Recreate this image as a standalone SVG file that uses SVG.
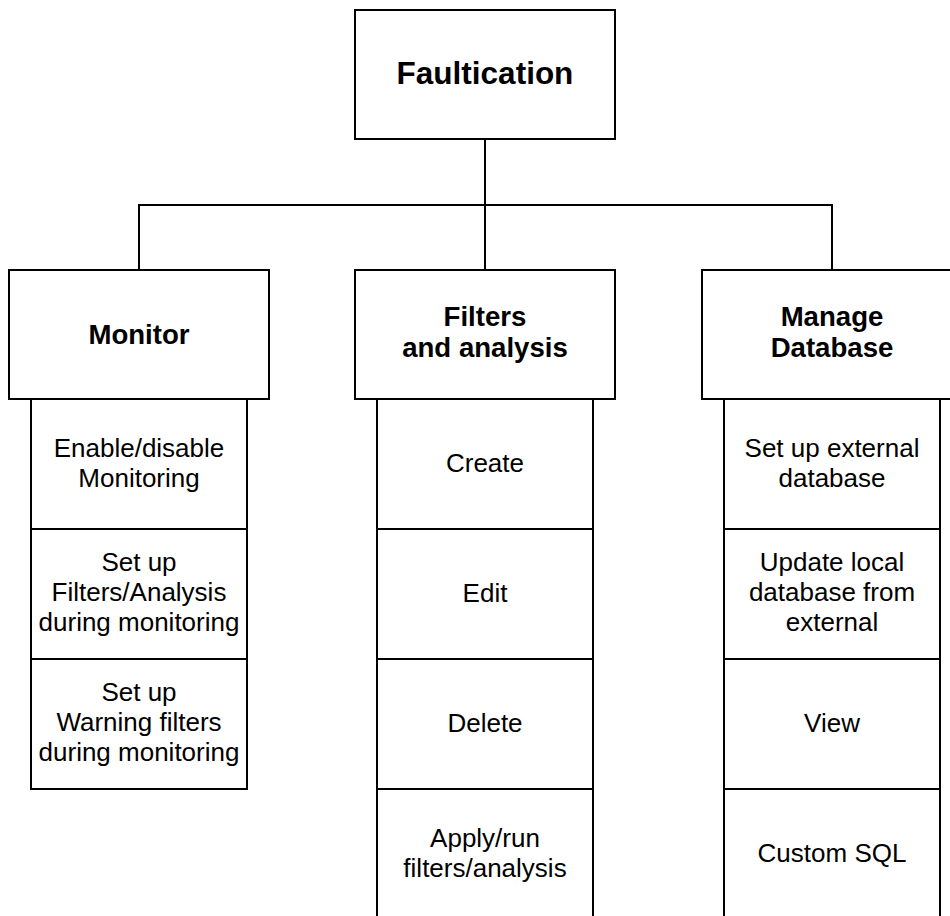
<svg xmlns="http://www.w3.org/2000/svg" width="950" height="916" viewBox="0 0 950 916">
  <style>
    .box { fill: #ffffff; stroke: #000000; stroke-width: 2; }
    .wire { fill: none; stroke: #000000; stroke-width: 2; }
    .title { font-family: "Liberation Sans", Arial, sans-serif; font-weight: bold; font-size: 31.5px; text-anchor: middle; fill: #000; }
    .head { font-family: "Liberation Sans", Arial, sans-serif; font-weight: bold; font-size: 27.6px; text-anchor: middle; fill: #000; }
    .item { font-family: "Liberation Sans", Arial, sans-serif; font-size: 26px; text-anchor: middle; fill: #000; }
  </style>
  <rect width="950" height="916" fill="#ffffff"/>

  <!-- tree connectors -->
  <g id="connectors">
    <path class="wire" d="M485,139 V270"/>
    <path class="wire" d="M139,270 V205 H832 V270"/>
  </g>

  <!-- root -->
  <g id="root">
    <rect class="box" x="355" y="10" width="260" height="129"/>
    <text class="title" x="485" y="84">Faultication</text>
  </g>

  <!-- Monitor column -->
  <g id="monitor">
    <rect class="box" x="9" y="270" width="260" height="129"/>
    <text class="head" x="139" y="344">Monitor</text>
  </g>
  <g id="monitor-enable">
    <rect class="box" x="31" y="399" width="216" height="130"/>
    <text class="item" x="139" y="457">Enable/disable</text>
    <text class="item" x="139" y="487">Monitoring</text>
  </g>
  <g id="monitor-filters">
    <rect class="box" x="31" y="529" width="216" height="130"/>
    <text class="item" x="139" y="571">Set up</text>
    <text class="item" x="139" y="601">Filters/Analysis</text>
    <text class="item" x="139" y="631">during monitoring</text>
  </g>
  <g id="monitor-warnings">
    <rect class="box" x="31" y="659" width="216" height="130"/>
    <text class="item" x="139" y="701">Set up</text>
    <text class="item" x="139" y="731">Warning filters</text>
    <text class="item" x="139" y="761">during monitoring</text>
  </g>

  <!-- Filters and analysis column -->
  <g id="filters">
    <rect class="box" x="355" y="270" width="260" height="129"/>
    <text class="head" x="485" y="326">Filters</text>
    <text class="head" x="485" y="357">and analysis</text>
  </g>
  <g id="filters-create">
    <rect class="box" x="377" y="399" width="216" height="130"/>
    <text class="item" x="485" y="472">Create</text>
  </g>
  <g id="filters-edit">
    <rect class="box" x="377" y="529" width="216" height="130"/>
    <text class="item" x="485" y="602">Edit</text>
  </g>
  <g id="filters-delete">
    <rect class="box" x="377" y="659" width="216" height="130"/>
    <text class="item" x="485" y="732">Delete</text>
  </g>
  <g id="filters-apply">
    <rect class="box" x="377" y="789" width="216" height="130"/>
    <text class="item" x="485" y="847">Apply/run</text>
    <text class="item" x="485" y="877">filters/analysis</text>
  </g>

  <!-- Manage Database column -->
  <g id="database">
    <rect class="box" x="702" y="270" width="260" height="129"/>
    <text class="head" x="832" y="326">Manage</text>
    <text class="head" x="832" y="357">Database</text>
  </g>
  <g id="database-external">
    <rect class="box" x="724" y="399" width="216" height="130"/>
    <text class="item" x="832" y="457">Set up external</text>
    <text class="item" x="832" y="487">database</text>
  </g>
  <g id="database-update">
    <rect class="box" x="724" y="529" width="216" height="130"/>
    <text class="item" x="832" y="571">Update local</text>
    <text class="item" x="832" y="601">database from</text>
    <text class="item" x="832" y="631">external</text>
  </g>
  <g id="database-view">
    <rect class="box" x="724" y="659" width="216" height="130"/>
    <text class="item" x="832" y="732">View</text>
  </g>
  <g id="database-sql">
    <rect class="box" x="724" y="789" width="216" height="130"/>
    <text class="item" x="832" y="862">Custom SQL</text>
  </g>
</svg>
